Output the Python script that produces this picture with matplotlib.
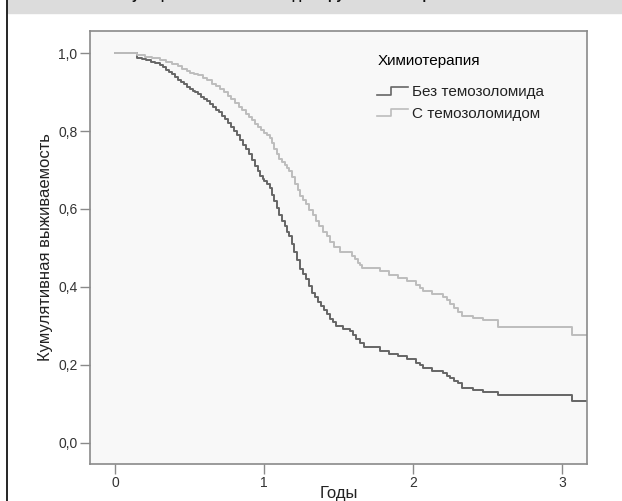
import numpy as np
import matplotlib
matplotlib.use("Agg")
import matplotlib.pyplot as plt
from matplotlib.lines import Line2D
from matplotlib.legend_handler import HandlerBase
from matplotlib.patches import Rectangle

plt.rcParams['font.family'] = ['Liberation Sans', 'DejaVu Sans']

# --- data --------------------------------------------------------------------
years_no_tmz = [0, 0.15, 0.18, 0.21, 0.24, 0.27, 0.30, 0.32, 0.34, 0.36, 0.38, 0.40,
                0.42, 0.44, 0.46, 0.48, 0.50, 0.52, 0.54, 0.56, 0.58, 0.60, 0.62,
                0.64, 0.66, 0.68, 0.70, 0.72, 0.74, 0.76, 0.78, 0.80, 0.82, 0.84,
                0.86, 0.88, 0.90, 0.92, 0.94, 0.96, 0.97, 0.99, 1.00, 1.02, 1.04,
                1.055, 1.07, 1.085, 1.10, 1.12, 1.14, 1.155, 1.17, 1.185, 1.20,
                1.22, 1.24, 1.26, 1.28, 1.30, 1.32, 1.34, 1.36, 1.38, 1.40, 1.42,
                1.44, 1.46, 1.48, 1.53, 1.58, 1.60, 1.62, 1.645, 1.67, 1.78, 1.84,
                1.90, 1.96, 2.02, 2.045, 2.07, 2.13, 2.20, 2.225, 2.25, 2.275, 2.30,
                2.33, 2.40, 2.47, 2.57, 3.065, 3.17]
surv_no_tmz = [1.0, 0.988, 0.985, 0.982, 0.978, 0.974, 0.970, 0.964, 0.958, 0.952, 0.947, 0.940,
               0.932, 0.926, 0.920, 0.914, 0.908, 0.904, 0.900, 0.894, 0.888, 0.883, 0.878,
               0.870, 0.862, 0.855, 0.848, 0.839, 0.830, 0.820, 0.810, 0.800, 0.790, 0.778,
               0.765, 0.754, 0.742, 0.726, 0.710, 0.697, 0.685, 0.678, 0.672, 0.663, 0.655,
               0.637, 0.620, 0.602, 0.585, 0.570, 0.555, 0.542, 0.530, 0.510, 0.490,
               0.468, 0.445, 0.432, 0.420, 0.402, 0.385, 0.373, 0.362, 0.351, 0.340, 0.329,
               0.318, 0.309, 0.300, 0.292, 0.286, 0.275, 0.265, 0.255, 0.245, 0.234, 0.228,
               0.222, 0.214, 0.205, 0.198, 0.192, 0.185, 0.178, 0.171, 0.165, 0.158, 0.152,
               0.140, 0.136, 0.131, 0.122, 0.107, 0.107]

years_tmz = [0, 0.15, 0.20, 0.25, 0.30, 0.34, 0.38, 0.42, 0.45, 0.48, 0.50, 0.53,
             0.56, 0.59, 0.62, 0.65, 0.68, 0.705, 0.73, 0.755, 0.78, 0.805, 0.83,
             0.855, 0.88, 0.90, 0.92, 0.94, 0.96, 0.98, 1.00, 1.02, 1.04, 1.055,
             1.07, 1.085, 1.10, 1.12, 1.14, 1.155, 1.17, 1.19, 1.21, 1.225, 1.24,
             1.26, 1.28, 1.305, 1.33, 1.35, 1.37, 1.395, 1.42, 1.445, 1.47, 1.51,
             1.59, 1.61, 1.63, 1.645, 1.66, 1.78, 1.84, 1.90, 1.96, 2.02, 2.045,
             2.07, 2.13, 2.20, 2.225, 2.25, 2.275, 2.30, 2.33, 2.40, 2.47, 2.57,
             3.065, 3.17]
surv_tmz = [1.0, 0.994, 0.991, 0.988, 0.982, 0.977, 0.972, 0.966, 0.960, 0.955, 0.950, 0.947,
            0.944, 0.937, 0.930, 0.922, 0.915, 0.908, 0.900, 0.891, 0.882, 0.872, 0.862,
            0.854, 0.845, 0.836, 0.828, 0.819, 0.810, 0.802, 0.795, 0.789, 0.782, 0.768,
            0.755, 0.741, 0.728, 0.720, 0.712, 0.705, 0.698, 0.681, 0.665, 0.648, 0.632,
            0.622, 0.612, 0.598, 0.585, 0.570, 0.555, 0.542, 0.530, 0.516, 0.503, 0.490,
            0.480, 0.471, 0.462, 0.455, 0.448, 0.440, 0.430, 0.422, 0.415, 0.405, 0.397,
            0.390, 0.382, 0.375, 0.365, 0.355, 0.345, 0.335, 0.324, 0.320, 0.315, 0.298,
            0.277, 0.277]

group_labels = ['Без темозоломида', 'С темозоломидом']
x_ticks = [0, 1, 2, 3]
y_ticks = [0.0, 0.2, 0.4, 0.6, 0.8, 1.0]


class StepHandler(HandlerBase):
    # small step glyph like the SPSS legend
    def create_artists(self, legend, orig, xd, yd, w, h, fontsize, trans):
        xs = [xd, xd + 0.45 * w, xd + 0.45 * w, xd + w]
        ys = [yd + 0.1 * h, yd + 0.1 * h, yd + 0.8 * h, yd + 0.8 * h]
        ln = Line2D(xs, ys, color=orig.get_color(), lw=1.2)
        ln.set_transform(trans)
        return [ln]


fig = plt.figure(figsize=(6.22, 5.01), dpi=100)
ax = fig.add_axes([0.1447, 0.0739, 0.7995, 0.8643])
ax.set_facecolor('#f8f8f8')

l1, = ax.plot(years_no_tmz, surv_no_tmz, drawstyle='steps-post', color='#666666', lw=1.4)
l2, = ax.plot(years_tmz, surv_tmz, drawstyle='steps-post', color='#bdbdbd', lw=1.4)

ax.set_xlim(-0.168, 3.17)
ax.set_ylim(-0.055, 1.057)
ax.set_xticks(x_ticks)
ax.set_xticklabels([str(t) for t in x_ticks])
ax.set_yticks(y_ticks)
ax.set_yticklabels([f'{t:.1f}'.replace('.', ',') for t in y_ticks])
for s in ax.spines.values():
    s.set_color('#8a8a8a')
    s.set_linewidth(1.2)
ax.tick_params(direction='out', length=7, width=1, color='#8a8a8a',
               labelsize=10, labelcolor='#333333', pad=2)
ax.set_xlabel('Годы', fontsize=12, color='#222222', labelpad=-3)
ax.set_ylabel('Кумулятивная выживаемость', fontsize=12, color='#222222', labelpad=4)

leg = ax.legend([l1, l2], group_labels, title='Химиотерапия', loc='upper left',
                bbox_to_anchor=(0.55, 0.978), frameon=False, fontsize=11,
                title_fontproperties={'size': 11}, alignment='left',
                handler_map={Line2D: StepHandler()}, handlelength=2.0,
                handletextpad=0.3, labelspacing=0.5)
leg._legend_box.sep = 12
for t in leg.get_texts():
    t.set_color('#222222')

# frame bits of the original screenshot
fig.patches.append(Rectangle((8 / 622, 1 - 13 / 501), 1, 13 / 501, transform=fig.transFigure,
                             color='#dcdcdc', zorder=0))
fig.lines.append(Line2D([7.5 / 622, 7.5 / 622], [0, 1], transform=fig.transFigure,
                        color='black', lw=1.2))
fig.text(0.47, 1.0 + 1 / 501, 'Функции выживаемости для групп химиотерапии',
         ha='center', va='baseline', fontsize=10, fontweight='bold', color='#111111')

fig.savefig('out.png', dpi=100, facecolor='white')
